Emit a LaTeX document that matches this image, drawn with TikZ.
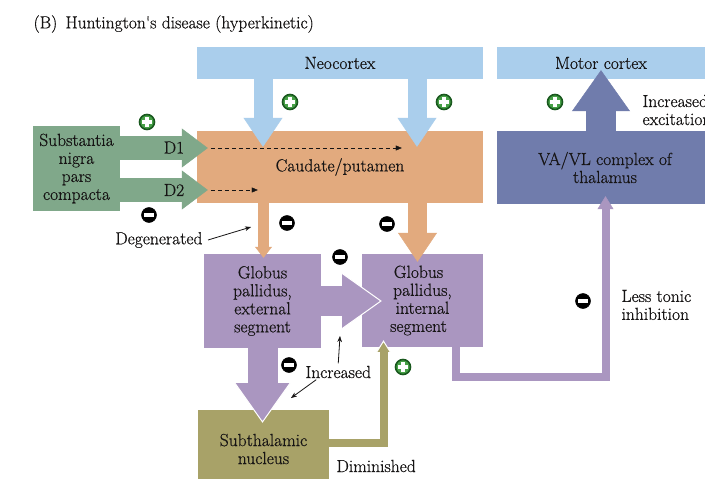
\documentclass[tikz,border=0pt]{standalone}
\usepackage{fontspec}
\newfontfamily\labelfont{Latin Modern Roman}[FakeBold=0.6]
\usetikzlibrary{arrows.meta,calc}
\definecolor{ink}{RGB}{22,20,20}
\definecolor{neocol}{RGB}{170,206,236}
\definecolor{caudcol}{RGB}{226,170,126}
\definecolor{sncol}{RGB}{128,168,138}
\definecolor{gpcol}{RGB}{170,150,192}
\definecolor{thalcol}{RGB}{112,124,172}
\definecolor{stncol}{RGB}{168,162,104}
\definecolor{pluscol}{RGB}{70,160,70}
\definecolor{plusedge}{RGB}{25,88,30}
\begin{document}
\begin{tikzpicture}[x=1pt,y=-1pt,
  every node/.style={font=\labelfont\fontsize{17.5}{18}\selectfont, text=ink},
  box/.style={rectangle, inner sep=0pt, align=center},
  blockarrow/.style={line width=30pt, -{Triangle[width=58pt 0,length=41pt 0,line width=0.5pt 0]}},
  midarrow/.style={line width=19pt, -{Triangle[width=39pt 0,length=29pt 0,line width=0.5pt 0]}},
  darrow/.style={line width=24pt, -{Triangle[width=39pt 0,length=26pt 0,line width=0.5pt 0]}},
  smallarrow/.style={line width=11pt, -{Triangle[width=17pt 0,length=11pt 0,line width=0.5pt 0]}},
  routearrow/.style={line width=8pt, line join=miter, -{Triangle[width=16pt 0,length=13pt 0,line width=0.5pt 0]}},
  dasharrow/.style={draw=ink, line width=1pt, dash pattern=on 4pt off 3pt, -{Triangle[length=6pt 0,width=5pt 0,line width=0.3pt 0]}},
  note/.style={draw=ink, line width=0.8pt, -{Stealth[length=6pt 0,width=4.5pt 0,line width=0.3pt 0]}},
  plusicon/.style={circle, inner sep=0pt, minimum size=15pt, fill=pluscol, draw=plusedge, line width=1.6pt,
    path picture={
      \fill[white] ([shift={(-4.8pt,-1.6pt)}]path picture bounding box.center) rectangle ([shift={(4.8pt,1.6pt)}]path picture bounding box.center);
      \fill[white] ([shift={(-1.6pt,-4.8pt)}]path picture bounding box.center) rectangle ([shift={(1.6pt,4.8pt)}]path picture bounding box.center);}},
  minusicon/.style={circle, inner sep=0pt, minimum size=15pt, fill=black, draw=black, line width=0.5pt,
    path picture={
      \fill[white] ([shift={(-5pt,-1.7pt)}]path picture bounding box.center) rectangle ([shift={(5pt,1.7pt)}]path picture bounding box.center);}}
]
\useasboundingbox[fill=white] (0,0) rectangle (705,479);

% title
\node[anchor=west] (title) at (30,24) {(B)\, Huntington's disease (hyperkinetic)};

% boxes
\node[box, fill=neocol, minimum width=286pt, minimum height=32pt] (neo) at (340,63) {Neocortex};
\node[box, fill=neocol, minimum width=208pt, minimum height=32pt] (motor) at (601,63) {Motor cortex};
\node[box, fill=caudcol, minimum width=286pt, minimum height=72pt] (caud) at (340,167) {Caudate/putamen};
\node[box, fill=sncol, minimum width=87pt, minimum height=85pt] (sn) at (76.5,168.5) {Substantia\\nigra\\pars\\compacta};
\node[box, fill=thalcol, minimum width=208pt, minimum height=73pt] (thal) at (601,167.5) {\hspace*{8pt}VA/VL complex of\\\hspace*{8pt}thalamus};
\node[box, fill=gpcol, minimum width=117pt, minimum height=94pt] (gpe) at (262.5,301) {Globus\\pallidus,\\external\\segment};
\node[box, fill=gpcol, minimum width=121pt, minimum height=93pt] (gpi) at (422.5,300.5) {Globus\hspace*{8pt}\\pallidus,\hspace*{8pt}\\internal\hspace*{8pt}\\segment\hspace*{8pt}};
\node[box, fill=stncol, minimum width=131pt, minimum height=78pt] (stn) at (263.5,449) {Subthalamic\\nucleus};

% connection points
\coordinate (d1tip) at ([xshift=11pt]caud.west |- 0,148);
\coordinate (d2tip) at ([xshift=11pt]caud.west |- 0,190);
\coordinate (neoL) at ([xshift=-77pt,yshift=-16pt]caud.north);
\coordinate (neoR) at ([xshift=77pt,yshift=-16pt]caud.north);
\coordinate (gpein) at ([xshift=1pt,yshift=-4pt]gpe.north);
\coordinate (gpiin) at ([xshift=-5pt,yshift=-8pt]gpi.north);
\coordinate (gpiside) at ([xshift=20pt]gpi.west |- gpe.east);
\coordinate (stnin) at ([yshift=-13pt]stn.north -| gpe.south);
\coordinate (motorin) at ([yshift=9pt]motor.south);
\coordinate (gpiout) at ([xshift=33.5pt]gpi.south);
\coordinate (low) at (0,377);
\coordinate (thalin) at ([xshift=4.5pt,yshift=8pt]thal.south);
\coordinate (stnout) at ([yshift=6pt]stn.east);
\coordinate (gpibot) at ([xshift=-39pt,yshift=7pt]gpi.south);

% block arrows
\draw[darrow, draw=sncol] (sn.east |- d1tip) -- (d1tip);
\draw[darrow, draw=sncol] (sn.east |- d2tip) -- (d2tip);
\draw[midarrow, draw=neocol] (neo.south -| neoL) -- (neoL);
\draw[midarrow, draw=neocol] (neo.south -| neoR) -- (neoR);
\draw[smallarrow, draw=caudcol] (caud.south -| gpein) -- (gpein);
\draw[midarrow, draw=caudcol] (caud.south -| gpiin) -- (gpiin);
\draw[blockarrow, -{Triangle[width=58pt 0,length=41pt 0,line width=1pt 0,color=white,fill=gpcol]}, draw=gpcol] (gpe.east) -- (gpiside);
\draw[line width=30pt, draw=gpcol, shorten >=40pt] (gpe.east) -- (gpiside);
\draw[blockarrow, -{Triangle[width=58pt 0,length=41pt 0,line width=1pt 0,color=white,fill=gpcol]}, draw=gpcol] (gpe.south) -- (stnin);
\draw[line width=30pt, draw=gpcol, shorten >=40pt] (gpe.south) -- (stnin);
\draw[blockarrow, draw=thalcol] (thal.north -| motorin) -- (motorin);

% routed pathways
\draw[routearrow, draw=gpcol] (gpiout) -- (gpiout |- low) -| (thalin);
\draw[routearrow, -{Triangle[width=16pt 0,length=13pt 0,line width=1pt 0,color=white,fill=stncol]}, draw=stncol] (stnout) -| (gpibot);
\draw[line width=8pt, draw=stncol, line join=miter, shorten >=12pt] (stnout) -| (gpibot);

% dopamine receptor pathways inside the striatum
\draw[dasharrow] ([xshift=3pt]d1tip) -- ([xshift=194pt]d1tip);
\draw[dasharrow] ([xshift=3pt]d2tip) -- ([xshift=50pt]d2tip);
\node (d1) at (174,147.5) {D1};
\node (d2) at (174,190) {D2};

% signs
\node[plusicon] (p1) at (147,122) {};
\node[plusicon] (p2) at (290,102) {};
\node[plusicon] (p3) at (444,102) {};
\node[plusicon] (p4) at (555,102) {};
\node[plusicon] (p5) at (403,367) {};
\node[minusicon] (m1) at (149,215) {};
\node[minusicon] (m2) at (287,223) {};
\node[minusicon] (m3) at (387,224) {};
\node[minusicon] (m4) at (340,257) {};
\node[minusicon] (m5) at (289,365) {};
\node[minusicon] (m6) at (583,301) {};

% annotations
\node[anchor=west, align=left] (incexc) at (639,110) {Increased\\excitation};
\node[anchor=west, align=left] (tonic) at (618,305) {Less tonic\\inhibition};
\node[anchor=east] (degen) at (206,240) {Degenerated};
\node[anchor=west] (incr) at (302,372) {Increased};
\node[anchor=west] (dimin) at (333,466) {Diminished};
\coordinate (degtip) at (251,227);
\coordinate (incup) at (340,336);
\coordinate (incdown) at (291,398);
\draw[note] ([xshift=2pt]degen.east) -- (degtip);
\draw[note] ([xshift=0pt,yshift=-1pt]incr.north) -- (incup);
\draw[note] ([xshift=-22pt,yshift=2pt]incr.south) -- (incdown);
\end{tikzpicture}
\end{document}
